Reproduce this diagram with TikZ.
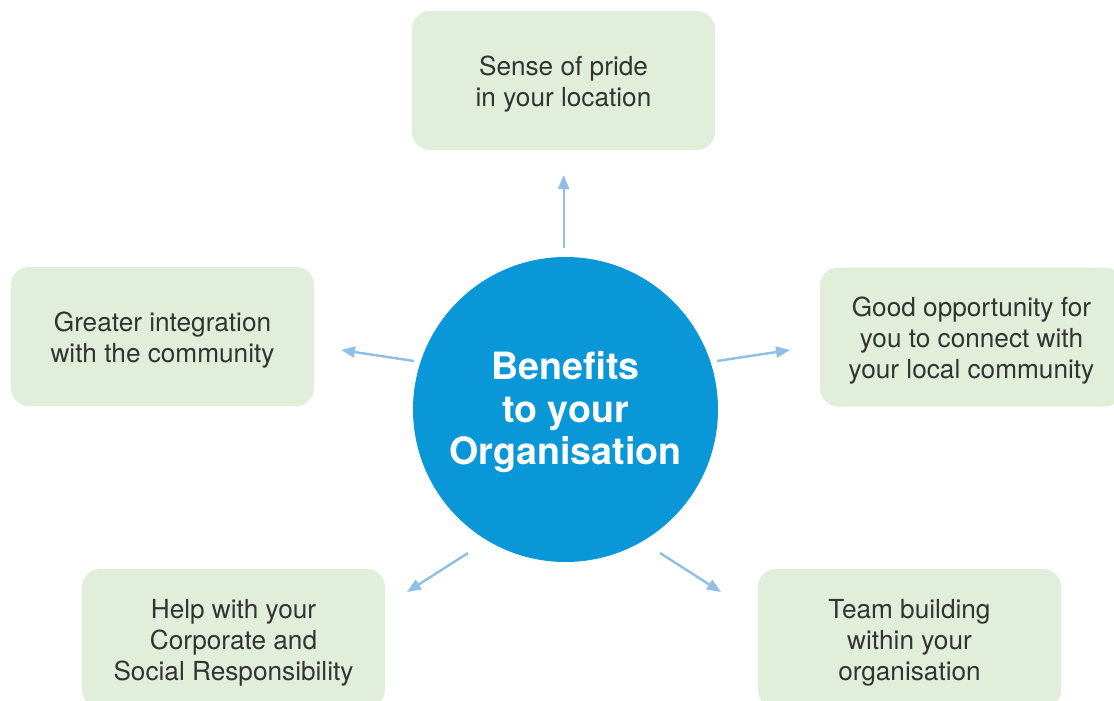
\documentclass[tikz,border=0pt]{standalone}
\usepackage{fontspec}
\setmainfont{TeX Gyre Heros}
\usetikzlibrary{arrows.meta}
\definecolor{circblue}{HTML}{0A97D8}
\definecolor{boxgreen}{HTML}{E0EEDA}
\definecolor{arrblue}{HTML}{8EBFE6}
\definecolor{txtgray}{HTML}{333333}
\newcommand{\bfirst}{\rule{0pt}{27pt}}
\newcommand{\blast}{\rule[-6pt]{0pt}{6pt}}
\newcommand{\hfirst}{\rule{0pt}{34pt}}
\newcommand{\hlast}{\rule[-8pt]{0pt}{8pt}}
\tikzset{
  benefit/.style={fill=boxgreen, rounded corners=18pt, minimum width=303pt, minimum height=139pt,
    align=center, text=txtgray, font=\fontsize{26.2}{31}\selectfont, inner sep=0pt},
  hub/.style={circle, fill=circblue, minimum size=305pt, inner sep=0pt, align=center,
    text=white, font=\fontsize{37.6}{42.5}\selectfont\bfseries},
  arr/.style={draw=arrblue, line width=2.4pt, -{Triangle[length=14pt,width=11pt]}}
}
\begin{document}
\begin{tikzpicture}[x=1pt,y=-1pt]
\useasboundingbox (0,0) rectangle (1114,701);
\clip (0,0) rectangle (1114,701);
\node[hub] (c) at (565.5,409.5) {\hfirst Benefits\\to your\\Organisation\hlast};
\node[benefit] (top) at (563.5,80.5) {\bfirst Sense of pride\\in your location\blast};
\node[benefit] (left) at (162.5,336.5) {\bfirst Greater integration\\with the community\blast};
\node[benefit] (right) at (971.5,337) {\bfirst Good opportunity for\\you to connect with\\your local community\blast};
\node[benefit] (bl) at (233.5,638.5) {\bfirst Help with your\\Corporate and\\Social Responsibility\blast};
\node[benefit] (br) at (909.5,638.5) {\bfirst Team building\\within your\\organisation\blast};
\coordinate (s1) at (563.7,248);
\coordinate (e1) at (563.7,175);
\coordinate (s2) at (414,361);
\coordinate (e2) at (341,350);
\coordinate (s3) at (717,361);
\coordinate (e3) at (790,350);
\coordinate (s4) at (468,553);
\coordinate (e4) at (407,592);
\coordinate (s5) at (660,553);
\coordinate (e5) at (721,592);
\draw[arr] (s1) -- (e1);
\draw[arr] (s2) -- (e2);
\draw[arr] (s3) -- (e3);
\draw[arr] (s4) -- (e4);
\draw[arr] (s5) -- (e5);
\end{tikzpicture}
\end{document}
